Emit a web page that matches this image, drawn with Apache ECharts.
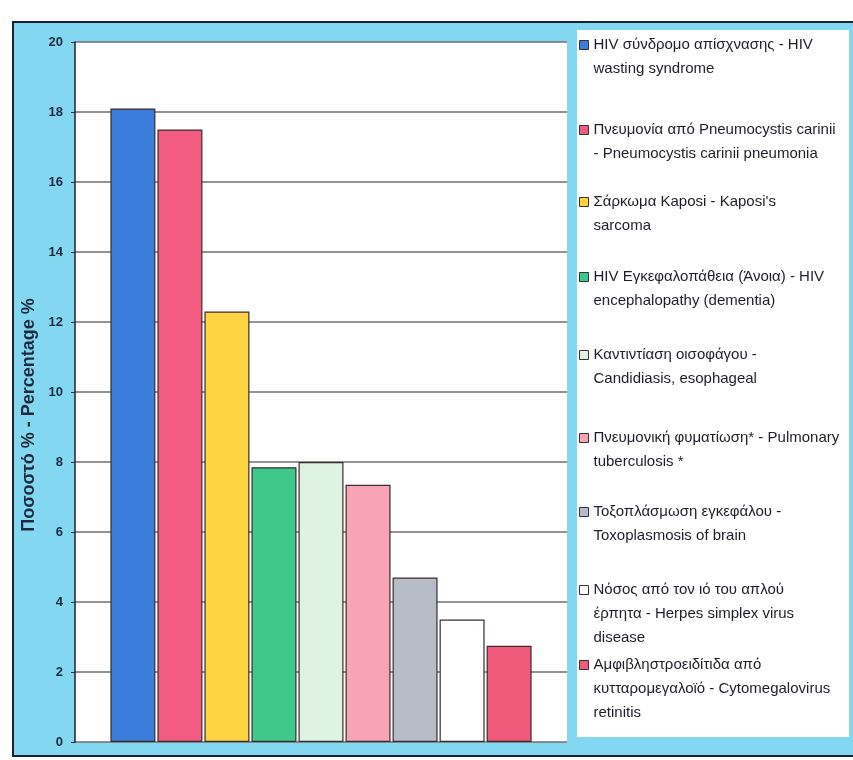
<!DOCTYPE html>
<html>
<head>
<meta charset="utf-8">
<script src="https://cdn.jsdelivr.net/npm/echarts@6/dist/echarts.min.js"></script>
<style>
  html, body { margin: 0; padding: 0; background: #fff; }
  #chart { width: 853px; height: 760px; }
</style>
</head>
<body>
<div id="chart"></div>
<script>
// Data
var diseaseNames = [
    'HIV σύνδρομο απίσχνασης - HIV\nwasting syndrome',
    'Πνευμονία από Pneumocystis carinii\n- Pneumocystis carinii pneumonia',
    'Σάρκωμα Kaposi - Kaposi\'s\nsarcoma',
    'HIV Εγκεφαλοπάθεια (Άνοια) - HIV\nencephalopathy (dementia)',
    'Καντιντίαση οισοφάγου -\nCandidiasis, esophageal',
    'Πνευμονική φυματίωση* - Pulmonary\ntuberculosis *',
    'Τοξοπλάσμωση εγκεφάλου -\nToxoplasmosis of brain',
    'Νόσος από τον ιό του απλού\nέρπητα - Herpes simplex virus\ndisease',
    'Αμφιβληστροειδίτιδα από\nκυτταρομεγαλοϊό - Cytomegalovirus\nretinitis'
];
var percentages = [18.1, 17.5, 12.3, 7.85, 8.0, 7.35, 4.7, 3.5, 2.75];
var barColors = ['#3b7ddb', '#f25c80', '#fdd444', '#3ec98b', '#def3e1', '#f7a4b6', '#b6bdc9', '#ffffff', '#ef5a7b'];
var yTicks = { min: 0, max: 20, interval: 2 };

// Layout of the legend: centre line of the first text row of every entry
var legendRowCentres = [45, 130, 202, 277, 355, 438, 512, 590, 665];
var lineH = 24;

var chart = echarts.init(document.getElementById('chart'));

var series = diseaseNames.map(function (name, i) {
    return {
        name: name,
        type: 'bar',
        data: [percentages[i]],
        barWidth: 45,
        barGap: '4.5%',
        itemStyle: {
            color: barColors[i],
            borderColor: '#3a2c2c',
            borderWidth: 1.2
        }
    };
});

/* One legend per entry so the first text row lines up with its square. */
var legends = diseaseNames.map(function (name, i) {
    var pad = name.split('\n').length - 1;
    return {
        data: [name],
        orient: 'vertical',
        left: 579,
        top: legendRowCentres[i] - lineH * (pad + 0.5),
        padding: 0,
        icon: 'rect',
        itemWidth: 9,
        itemHeight: 9,
        itemGap: 0,
        selectedMode: false,
        itemStyle: { borderColor: '#333', borderWidth: 1 },
        formatter: function (n) {
            return new Array(pad + 1).join('\n') + n;
        },
        textStyle: {
            fontFamily: 'Liberation Sans',
            fontSize: 15,
            color: '#1e1e28',
            lineHeight: lineH
        }
    };
});

var option = {
    animation: false,
    backgroundColor: '#ffffff',
    graphic: [
        {
            type: 'rect', z: -10,
            shape: { x: 13, y: 22, width: 845, height: 734 },
            style: { fill: '#84d7f1', stroke: '#1b2230', lineWidth: 2 }
        },
        {
            type: 'rect', z: -9,
            shape: { x: 577, y: 30, width: 272, height: 707 },
            style: { fill: '#ffffff' }
        }
    ],
    grid: {
        left: 75,
        right: 286,
        top: 42,
        bottom: 18,
        show: true,
        backgroundColor: '#ffffff',
        borderWidth: 0
    },
    tooltip: { trigger: 'item' },
    legend: legends,
    xAxis: [
        {
            type: 'category',
            data: [''],
            axisLine: { show: false },
            axisTick: { show: false },
            axisLabel: { show: false }
        }
    ],
    yAxis: [
        {
            type: 'value',
            min: yTicks.min,
            max: yTicks.max,
            interval: yTicks.interval,
            name: 'Ποσοστό % - Percentage %',
            nameLocation: 'middle',
            nameGap: 36,
            nameTextStyle: {
                fontFamily: 'Liberation Sans',
                fontSize: 18,
                fontWeight: 'bold',
                color: '#1c2a3e',
                padding: [0, 46, 0, 0]
            },
            axisLine: { show: true, lineStyle: { color: '#1c2230', width: 1.5 } },
            axisTick: { show: true, length: 4, lineStyle: { color: '#333' } },
            axisLabel: {
                fontFamily: 'Liberation Sans',
                fontSize: 13,
                fontWeight: 'bold',
                color: '#1c2a3e',
                margin: 12
            },
            splitLine: { lineStyle: { color: '#6f6f6f', width: 1.5 } }
        }
    ],
    series: series
};
chart.setOption(option);

/* Responsiveness. */
window.addEventListener('resize', function () {
    chart.resize();
});
</script>
</body>
</html>
